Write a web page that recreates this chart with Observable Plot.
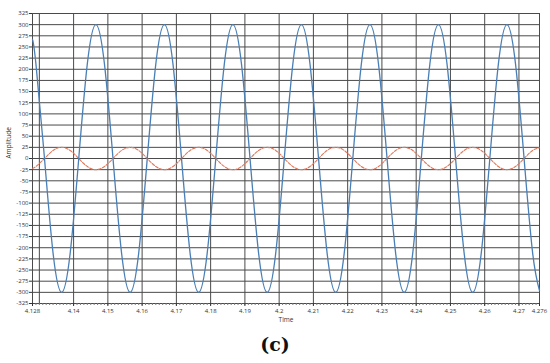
<!DOCTYPE html>
<html>
<head>
<meta charset="utf-8">
<script src="https://cdn.jsdelivr.net/npm/d3@7"></script>
<script src="https://cdn.jsdelivr.net/npm/@observablehq/plot@0.6"></script>
<style>
  html, body { margin: 0; padding: 0; background: #fff; }
  #chart { width: 550px; }
  #caption { width: 550px; text-align: center; font-family: "DejaVu Serif", "Liberation Serif", serif; font-weight: bold; font-size: 19px; line-height: 28px; color: #111; }
</style>
</head>
<body>
<div id="chart"></div>
<div id="caption">(c)</div>
<script>
// Time samples (s)
const time = [4.128, 4.129, 4.1315, 4.134, 4.1365, 4.139, 4.1415, 4.144, 4.1465, 4.149,
  4.1515, 4.154, 4.1565, 4.159, 4.1615, 4.164, 4.1665, 4.169, 4.1715, 4.174,
  4.1765, 4.179, 4.1815, 4.184, 4.1865, 4.189, 4.1915, 4.194, 4.1965, 4.199,
  4.2015, 4.204, 4.2065, 4.209, 4.2115, 4.214, 4.2165, 4.219, 4.2215, 4.224,
  4.2265, 4.229, 4.2315, 4.234, 4.2365, 4.239, 4.2415, 4.244, 4.2465, 4.249,
  4.2515, 4.254, 4.2565, 4.259, 4.2615, 4.264, 4.2665, 4.269, 4.2715, 4.274, 4.276];
// Large (blue) signal amplitude
const blueAmp = [267, 212, 0, -212, -300, -212, 0, 212, 300, 212,
  0, -212, -300, -212, 0, 212, 300, 212, 0, -212,
  -300, -212, 0, 212, 300, 212, 0, -212, -300, -212,
  0, 212, 300, 212, 0, -212, -300, -212, 0, 212,
  300, 212, 0, -212, -300, -212, 0, 212, 300, 212,
  0, -212, -300, -212, 0, 212, 300, 212, 0, -212, -296];
// Small (red) signal amplitude
const redAmp = [-22, -18, 0, 18, 25, 18, 0, -18, -25, -18,
  0, 18, 25, 18, 0, -18, -25, -18, 0, 18,
  25, 18, 0, -18, -25, -18, 0, 18, 25, 18,
  0, -18, -25, -18, 0, 18, 25, 18, 0, -18,
  -25, -18, 0, 18, 25, 18, 0, -18, -25, -18,
  0, 18, 25, 18, 0, -18, -25, -18, 0, 18, 24];

const xTickLabels = [4.128, 4.14, 4.15, 4.16, 4.17, 4.18, 4.19, 4.2, 4.21, 4.22, 4.23, 4.24, 4.25, 4.26, 4.27, 4.276];
const xGrid = [4.13, 4.14, 4.15, 4.16, 4.17, 4.18, 4.19, 4.2, 4.21, 4.22, 4.23, 4.24, 4.25, 4.26, 4.27];
const yTicks = [325, 300, 275, 250, 225, 200, 175, 150, 125, 100, 75, 50, 25, 0, -25, -50, -75, -100, -125, -150, -175, -200, -225, -250, -275, -300, -325];
const xMinor = d3.range(4128, 4277).map(d => d / 1000);

const blue = time.map((t, i) => ({t, v: blueAmp[i]}));
const red = time.map((t, i) => ({t, v: redAmp[i]}));

const chart = Plot.plot({
  width: 550,
  height: 330,
  marginTop: 13,
  marginLeft: 32,
  marginRight: 11,
  marginBottom: 27,
  style: {fontFamily: "Open Sans, sans-serif", fontSize: "6px", color: "#333", background: "#fff"},
  x: {domain: [4.128, 4.276]},
  y: {domain: [-325, 325]},
  marks: [
    Plot.gridX(xGrid, {stroke: "#4a4a4a", strokeOpacity: 1, strokeWidth: 1}),
    Plot.gridY(yTicks, {stroke: "#4a4a4a", strokeOpacity: 1, strokeWidth: 1}),
    Plot.frame({stroke: "#4a4a4a"}),
    Plot.axisX(xMinor, {tickSize: 2, text: null, stroke: "#777", label: null}),
    Plot.axisX(xTickLabels, {tickSize: 3, tickPadding: 2, tickFormat: d => String(d), label: null, fill: "#333"}),
    Plot.axisY(yTicks, {tickSize: 3, tickPadding: 1, tickFormat: d => String(d), label: null, fill: "#333"}),
    Plot.line(red, {x: "t", y: "v", stroke: "#e07a5f", strokeWidth: 1.1, strokeDasharray: "3,1.5", curve: "natural"}),
    Plot.line(blue, {x: "t", y: "v", stroke: "#4a7fb5", strokeWidth: 1.3, curve: "natural"}),
    Plot.text(["Time"], {frameAnchor: "bottom", dy: 18, fontSize: 6.5, fill: "#333"}),
    Plot.text(["Amplitude"], {frameAnchor: "left", dx: -24, rotate: -90, fontSize: 6.5, fill: "#333"})
  ]
});
document.getElementById("chart").appendChild(chart);
</script>
</body>
</html>
